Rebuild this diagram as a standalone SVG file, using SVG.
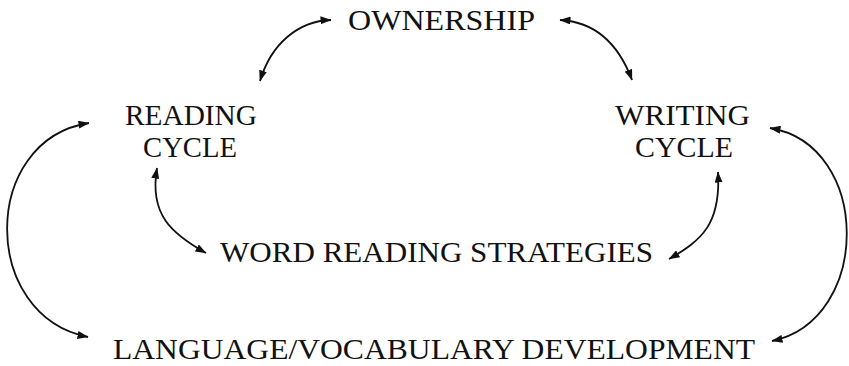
<svg xmlns="http://www.w3.org/2000/svg" width="849" height="366" viewBox="0 0 849 366">
  <style>
    .lbl { font-family: "Liberation Serif", "Times New Roman", serif; font-size: 30px; fill: #111; }
    .conn { fill: none; stroke: #111; stroke-width: 1.8; marker-start: url(#head); marker-end: url(#head); }
  </style>
  <defs>
    <marker id="head" viewBox="0 0 11 8" refX="10.5" refY="4" markerWidth="11" markerHeight="8" markerUnits="userSpaceOnUse" orient="auto-start-reverse">
      <path d="M0,0 L11,4 L0,8 Z" fill="#111"/>
    </marker>
  </defs>
  <rect width="849" height="366" fill="#fff"/>

  <g id="connectors">
    <path class="conn" d="M331,20 C298,21 271,44 260,81"/>
    <path class="conn" d="M560,20 C598,22 620,48 632,80"/>
    <path class="conn" d="M89,123 C-20,140 -20,316 88,337"/>
    <path class="conn" d="M770,128 C872,145 872,320 772,341"/>
    <path class="conn" d="M157,168 C149,215 172,234 206,253"/>
    <path class="conn" d="M718,172 C721,224 702,240 669,259"/>
  </g>

  <g id="ownership">
    <text class="lbl" x="348" y="30" textLength="187" lengthAdjust="spacingAndGlyphs">OWNERSHIP</text>
  </g>
  <g id="reading-cycle">
    <text class="lbl" x="125" y="125" textLength="132" lengthAdjust="spacingAndGlyphs">READING</text>
    <text class="lbl" x="143" y="157" textLength="94" lengthAdjust="spacingAndGlyphs">CYCLE</text>
  </g>
  <g id="writing-cycle">
    <text class="lbl" x="615" y="125" textLength="135" lengthAdjust="spacingAndGlyphs">WRITING</text>
    <text class="lbl" x="635" y="157" textLength="98" lengthAdjust="spacingAndGlyphs">CYCLE</text>
  </g>
  <g id="word-reading-strategies">
    <text class="lbl" x="220" y="262" textLength="433" lengthAdjust="spacingAndGlyphs">WORD READING STRATEGIES</text>
  </g>
  <g id="language-vocabulary">
    <text class="lbl" x="113" y="359" textLength="642" lengthAdjust="spacingAndGlyphs">LANGUAGE/VOCABULARY DEVELOPMENT</text>
  </g>
</svg>
